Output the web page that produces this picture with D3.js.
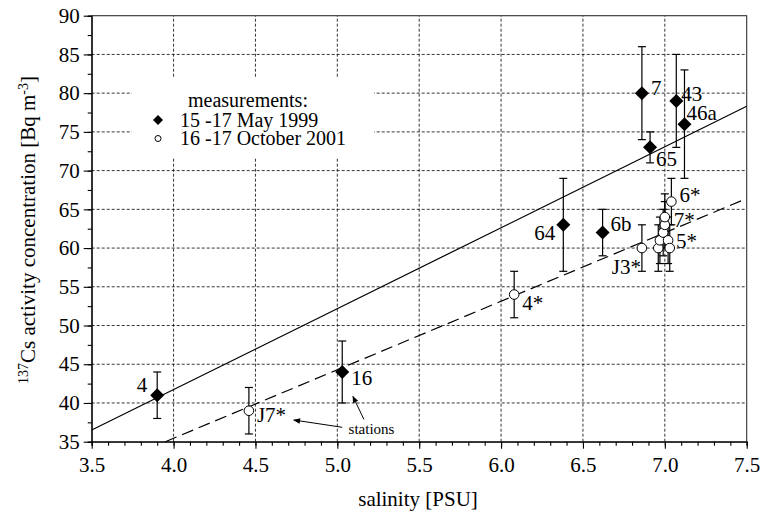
<!DOCTYPE html>
<html>
<head>
<meta charset="utf-8">
<script src="https://cdn.jsdelivr.net/npm/d3@7"></script>
<style>
  body { margin: 0; background: #fff; }
  svg { display: block; font-family: "Liberation Serif", "Times New Roman", serif; }
  .grid line { stroke: #000; stroke-width: 0.8; stroke-dasharray: 3,2; }
  .axis path, .axis line { stroke: #000; stroke-width: 1.1; }
  .axis text { font-family: "Liberation Serif", serif; font-size: 21px; fill: #000; }
</style>
</head>
<body>
<div id="chart"></div>
<script>
// 137Cs vs salinity — two campaigns, regression lines

// ── data: 15-17 May 1999 (diamonds) ──
const mayStations = ["4", "16", "64", "6b", "7", "65", "43", "46a"];
const maySalinity = [3.90, 5.03, 6.38, 6.62, 6.86, 6.91, 7.07, 7.12];
const mayCs       = [41, 44, 63, 62, 80, 73, 79, 76];
const mayErr      = [3, 4, 6, 3, 6, 2, 6, 7];

// ── data: 16-17 October 2001 (circles) ──
const octStations = ["J7*", "4*", "J3*", "", "", "", "", "7*", "5*", "", "6*"];
const octSalinity = [4.46, 6.08, 6.86, 6.96, 6.97, 6.99, 7.00, 7.00, 7.02, 7.03, 7.04];
const octCs       = [39, 54, 60, 60, 61, 62, 63, 64, 61, 60, 66];
const octErr      = [3, 3, 3, 3, 3, 3, 3, 3, 3, 3, 3];

// ── fitted lines (end points in data units) ──
const solidFit  = [[3.5, 36.5], [7.5, 78.3]];
const dashedFit = [[3.95, 35], [7.5, 66.4]];

// ── axes ──
const xMajor = [3.5, 4.0, 4.5, 5.0, 5.5, 6.0, 6.5, 7.0, 7.5];
const yMajor = [35, 40, 45, 50, 55, 60, 65, 70, 75, 80, 85, 90];

// label placement, pixels relative to the marker (style only)
const mayLabelPos = [
  { dx: -10, dy: -3, anchor: "end" },
  { dx: 9, dy: 13 },
  { dx: -8, dy: 15, anchor: "end" },
  { dx: 8, dy: -2 },
  { dx: 9, dy: 2 },
  { dx: 6, dy: 19 },
  { dx: 5, dy: 0 },
  { dx: 2, dy: -4 },
];
const octLabelPos = [
  { dx: 8, dy: 11 }, { dx: 8, dy: 15 }, { dx: -1, dy: 26, anchor: "end" },
  null, null, null, null,
  { dx: 9, dy: 10 }, { dx: 8, dy: 8 }, null, { dx: 8, dy: 0 },
];

const width = 764, height = 513;
const m = { left: 91.7, right: 764 - 746.7, top: 15.7, bottom: 513 - 441.7 };

const svg = d3.select("#chart").append("svg")
  .attr("width", width).attr("height", height);

const x = d3.scaleLinear().domain([3.5, 7.5]).range([m.left, width - m.right]);
const y = d3.scaleLinear().domain([35, 90]).range([height - m.bottom, m.top]);

svg.append("defs").append("marker")
  .attr("id", "arrow")
  .attr("viewBox", "0 0 10 10")
  .attr("refX", 9).attr("refY", 5)
  .attr("markerWidth", 9).attr("markerHeight", 7)
  .attr("markerUnits", "userSpaceOnUse")
  .attr("orient", "auto")
  .append("path").attr("d", "M0,1 L10,5 L0,9 Z").attr("fill", "#000");

// ── grid ──
const grid = svg.append("g").attr("class", "grid");
grid.selectAll(".gx").data(xMajor.slice(1, -1)).join("line")
  .attr("x1", d => x(d)).attr("x2", d => x(d))
  .attr("y1", y(35)).attr("y2", y(90));
grid.selectAll(".gy").data(yMajor.slice(1, -1)).join("line")
  .attr("y1", d => y(d)).attr("y2", d => y(d))
  .attr("x1", x(3.5)).attr("x2", x(7.5));

// frame top / right
svg.append("rect")
  .attr("x", x(3.5)).attr("y", y(90))
  .attr("width", x(7.5) - x(3.5)).attr("height", y(35) - y(90))
  .attr("fill", "none").attr("stroke", "#333").attr("stroke-width", 1.1);

// ── fit lines ──
const line = d3.line().x(d => x(d[0])).y(d => y(d[1]));
svg.append("path").attr("d", line(solidFit))
  .attr("fill", "none").attr("stroke", "#000").attr("stroke-width", 1.2);
svg.append("path").attr("d", line(dashedFit))
  .attr("fill", "none").attr("stroke", "#000").attr("stroke-width", 1.2)
  .attr("stroke-dasharray", "12,6");

// ── legend (white box hides grid) ──
svg.append("rect")
  .attr("x", 132).attr("y", 77).attr("width", 242).attr("height", 80)
  .attr("fill", "#fff");
const leg = svg.append("g").style("font-size", "20px");
leg.append("text").attr("x", 188).attr("y", 107).text("measurements:");
leg.append("path").attr("transform", "translate(158,120) rotate(45)")
  .attr("d", d3.symbol(d3.symbolSquare, 50)()).attr("fill", "#000");
leg.append("text").attr("x", 180).attr("y", 127).text("15 -17 May 1999");
leg.append("circle").attr("cx", 158).attr("cy", 138.5).attr("r", 3)
  .attr("fill", "#fff").attr("stroke", "#000").attr("stroke-width", 1);
leg.append("text").attr("x", 180).attr("y", 145).text("16 -17 October 2001");

// ── axes ──
const xAxis = svg.append("g").attr("class", "axis")
  .attr("transform", `translate(0,${y(35)})`)
  .call(d3.axisBottom(x).tickValues(d3.range(35, 76).map(d => d / 10)).tickSize(4).tickFormat(""));
xAxis.append("g").call(d3.axisBottom(x).tickValues(xMajor).tickSize(7).tickFormat(d3.format(".1f")))
  .call(g => g.select(".domain").remove())
  .selectAll("text").attr("y", 15.5).attr("dy", "0.71em");

const yAxis = svg.append("g").attr("class", "axis")
  .attr("transform", `translate(${x(3.5)},0)`)
  .call(d3.axisLeft(y).tickValues(d3.range(35, 90.1, 2.5)).tickSize(4).tickFormat(""));
yAxis.append("g").call(d3.axisLeft(y).tickValues(yMajor).tickSize(8))
  .call(g => g.select(".domain").remove())
  .selectAll("text").attr("x", -12);

svg.append("text")
  .attr("x", 418).attr("y", 506).attr("text-anchor", "middle")
  .style("font-size", "21px").text("salinity [PSU]");

const yl = svg.append("text")
  .attr("transform", "translate(35,230) rotate(-90)")
  .attr("text-anchor", "middle").style("font-size", "21px");
yl.append("tspan").attr("baseline-shift", "super").style("font-size", "14px").text("137");
yl.append("tspan").text("Cs activity concentration [Bq m");
yl.append("tspan").attr("baseline-shift", "super").style("font-size", "14px").text("-3");
yl.append("tspan").text("]");

// ── error bars ──
function errorBars(xs, ys, es) {
  const g = svg.append("g").attr("stroke", "#000").attr("stroke-width", 1.2);
  xs.forEach((sx, i) => {
    const px = x(sx), lo = y(ys[i] - es[i]), hi = y(ys[i] + es[i]);
    g.append("line").attr("x1", px).attr("x2", px).attr("y1", lo).attr("y2", hi);
    g.append("line").attr("x1", px - 4).attr("x2", px + 4).attr("y1", lo).attr("y2", lo);
    g.append("line").attr("x1", px - 4).attr("x2", px + 4).attr("y1", hi).attr("y2", hi);
  });
}
errorBars(octSalinity, octCs, octErr);
errorBars(maySalinity, mayCs, mayErr);

// ── markers ──
svg.append("g").selectAll("circle").data(octSalinity).join("circle")
  .attr("cx", d => x(d)).attr("cy", (d, i) => y(octCs[i])).attr("r", 4.8)
  .attr("fill", "#fff").attr("stroke", "#000").attr("stroke-width", 1);

svg.append("g").selectAll("path").data(maySalinity).join("path")
  .attr("transform", (d, i) => `translate(${x(d)},${y(mayCs[i])}) rotate(45)`)
  .attr("d", d3.symbol(d3.symbolSquare, 98)())
  .attr("fill", "#000");

// ── station labels ──
const labels = svg.append("g").style("font-size", "21px");
mayStations.forEach((s, i) => {
  const p = mayLabelPos[i];
  labels.append("text")
    .attr("x", x(maySalinity[i]) + p.dx).attr("y", y(mayCs[i]) + p.dy)
    .attr("text-anchor", p.anchor || "start").text(s);
});
octStations.forEach((s, i) => {
  const p = octLabelPos[i];
  if (!s || !p) return;
  labels.append("text")
    .attr("x", x(octSalinity[i]) + p.dx).attr("y", y(octCs[i]) + p.dy)
    .attr("text-anchor", p.anchor || "start").text(s);
});

// ── "stations" annotation ──
svg.append("text").attr("x", x(5.069)).attr("y", y(35.98))
  .style("font-size", "15px").text("stations");
svg.append("line")
  .attr("x1", x(5.03)).attr("y1", y(36.86)).attr("x2", x(4.734)).attr("y2", y(37.8))
  .attr("stroke", "#000").attr("stroke-width", 1).attr("marker-end", "url(#arrow)");
svg.append("line")
  .attr("x1", x(5.162)).attr("y1", y(37.9)).attr("x2", x(5.095)).attr("y2", y(40.86))
  .attr("stroke", "#000").attr("stroke-width", 1).attr("marker-end", "url(#arrow)");
</script>
</body>
</html>
